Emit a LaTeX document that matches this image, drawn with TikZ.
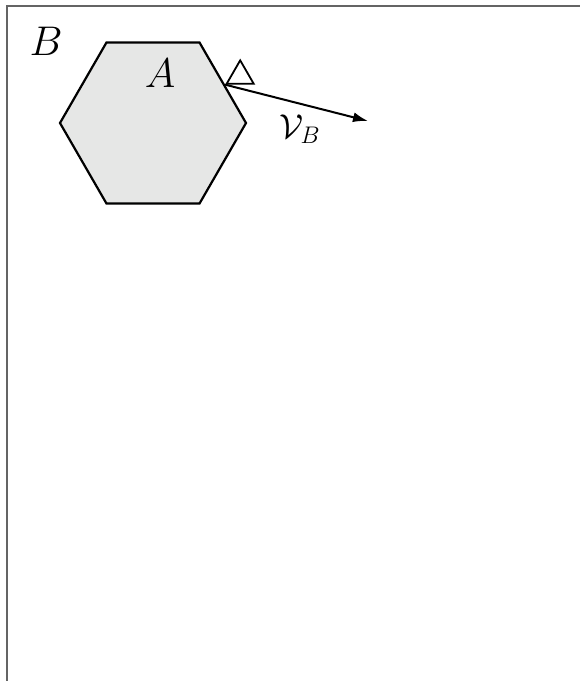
\documentclass[tikz,border=0pt]{standalone}
\usepackage{amsmath,amssymb}
\usetikzlibrary{arrows.meta,calc,positioning,shapes.geometric}
\definecolor{hexfill}{RGB}{230,231,230}
\definecolor{framegray}{RGB}{100,100,100}

\begin{document}
\begin{tikzpicture}[x=0.5pt,y=-0.5pt]
\tikzset{>={Latex[length=7.5pt,width=5pt]},
  every node/.style={font=\fontsize{20}{24}\selectfont},
  body/.style={regular polygon, regular polygon sides=6, minimum size=93pt,
    inner sep=0pt, draw, line width=1.1pt, fill=hexfill},
  marker/.style={regular polygon, regular polygon sides=3, minimum size=15.6pt,
    inner sep=0pt, draw, line width=0.9pt}}
  \useasboundingbox (0,0) rectangle (580,681);
  \draw[framegray, line width=1pt] (6.5,681) -- (6.5,5.5) -- (580,5.5);

  \node[body] (hex) at (153,123) {};
  \node (A) at (160,73) {$A$};
  \node[font=\fontsize{21}{25}\selectfont] (B) at (46,41) {$B$};

  \node[marker, anchor=corner 2] (tri) at (hex.28) {};
  \coordinate (tip) at (368,121);
  \draw[->, line width=1pt] (hex.28) -- (tip);
  \node[font=\fontsize{18}{22}\selectfont] (vB) at (300,129) {$\mathcal{V}_B$};
\end{tikzpicture}
\end{document}
